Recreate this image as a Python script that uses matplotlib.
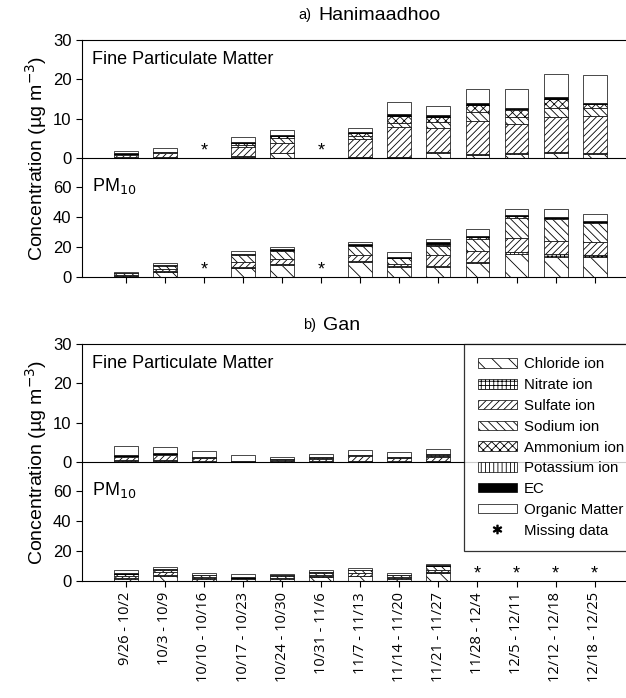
import numpy as np
import matplotlib
matplotlib.use("Agg")
import matplotlib.pyplot as plt
from matplotlib.patches import Patch
from matplotlib.lines import Line2D

plt.rcParams['font.family'] = ['Liberation Sans', 'DejaVu Sans']
plt.rcParams['hatch.linewidth'] = 0.6

weeks = ["9/26 - 10/2", "10/3 - 10/9", "10/10 - 10/16", "10/17 - 10/23",
         "10/24 - 10/30", "10/31 - 11/6", "11/7 - 11/13", "11/14 - 11/20",
         "11/21 - 11/27", "11/28 - 12/4", "12/5 - 12/11", "12/12 - 12/18",
         "12/18 - 12/25"]

species = ["Chloride ion", "Nitrate ion", "Sulfate ion", "Sodium ion",
           "Ammonium ion", "Potassium ion", "EC", "Organic Matter"]

nan = np.nan
# rows = weeks, columns = species (same order as `species`)
han_fine = [
    [0.1, 0.1, 0.6, 0.1, 0.1, 0.05, 0.2, 0.65],
    [0.1, 0.1, 1.0, 0.2, 0.1, 0.05, 0.05, 0.9],
    [nan] * 8,
    [0.3, 0.1, 2.3, 0.5, 0.5, 0.05, 0.25, 1.3],
    [1.2, 0.1, 2.4, 1.5, 0.4, 0.05, 0.1, 1.4],
    [nan] * 8,
    [0.2, 0.1, 4.5, 0.9, 0.6, 0.05, 0.15, 1.2],
    [0.2, 0.1, 7.5, 1.0, 1.8, 0.05, 0.65, 2.9],
    [1.2, 0.2, 6.2, 1.5, 1.3, 0.05, 0.5, 2.2],
    [0.7, 0.2, 8.5, 2.2, 1.9, 0.1, 0.4, 3.6],
    [1.0, 0.2, 7.4, 1.9, 1.8, 0.1, 0.4, 4.8],
    [1.2, 0.3, 9.0, 2.2, 2.2, 0.1, 0.4, 5.9],
    [1.0, 0.3, 9.5, 1.8, 1.1, 0.1, 0.3, 7.1],
]
han_pm10 = [
    [0.6, 0.3, 0.6, 0.9, 0.1, 0.05, 0.15, 0.8],
    [3.5, 0.5, 1.5, 2.0, 0.2, 0.2, 0.2, 1.2],
    [nan] * 8,
    [6.0, 0.6, 3.5, 4.5, 0.5, 0.2, 0.3, 1.7],
    [8.0, 0.5, 3.5, 5.5, 0.4, 0.2, 0.2, 1.7],
    [nan] * 8,
    [10.0, 0.8, 3.5, 6.5, 0.5, 0.2, 0.2, 1.6],
    [6.5, 0.5, 1.5, 4.0, 0.3, 0.1, 0.3, 3.6],
    [6.5, 0.7, 7.5, 6.0, 0.8, 0.2, 1.5, 1.8],
    [9.0, 1.0, 7.5, 7.5, 1.5, 0.3, 0.5, 4.7],
    [15.0, 1.5, 9.5, 13.5, 1.0, 0.3, 0.5, 3.7],
    [13.5, 1.5, 9.0, 14.5, 0.7, 0.3, 0.5, 5.0],
    [13.0, 1.5, 9.0, 12.5, 0.5, 0.3, 0.3, 4.4],
]
gan_fine = [
    [0.2, 0.2, 0.9, 0.2, 0.1, 0.05, 0.05, 2.3],
    [0.3, 0.2, 1.2, 0.3, 0.1, 0.05, 0.05, 1.6],
    [0.1, 0.1, 0.7, 0.1, 0.1, 0.05, 0.05, 1.7],
    [0.05, 0.0, 0.1, 0.05, 0.0, 0.0, 0.0, 1.6],
    [0.1, 0.1, 0.3, 0.2, 0.1, 0.0, 0.05, 0.45],
    [0.1, 0.1, 0.6, 0.2, 0.1, 0.05, 0.05, 0.8],
    [0.2, 0.1, 1.1, 0.3, 0.1, 0.05, 0.05, 1.2],
    [0.1, 0.1, 0.7, 0.2, 0.1, 0.05, 0.05, 1.2],
    [0.2, 0.1, 0.9, 0.3, 0.4, 0.05, 0.05, 1.3],
    [nan] * 8, [nan] * 8, [nan] * 8, [nan] * 8,
]
gan_pm10 = [
    [1.5, 0.5, 1.0, 1.5, 0.2, 0.1, 0.2, 2.0],
    [3.5, 0.7, 1.5, 1.8, 0.1, 0.1, 0.3, 1.5],
    [1.5, 0.4, 0.8, 1.0, 0.1, 0.1, 0.2, 1.4],
    [1.0, 0.2, 0.3, 0.5, 0.1, 0.1, 0.2, 2.4],
    [1.5, 0.3, 0.5, 1.2, 0.1, 0.1, 0.2, 0.9],
    [2.5, 0.5, 1.0, 1.6, 0.1, 0.1, 0.2, 1.5],
    [3.0, 0.6, 1.5, 2.0, 0.1, 0.1, 0.2, 1.2],
    [1.5, 0.3, 0.8, 1.2, 0.1, 0.1, 0.2, 1.3],
    [5.0, 0.8, 1.5, 2.5, 0.2, 0.1, 0.2, 1.0],
    [nan] * 8, [nan] * 8, [nan] * 8, [nan] * 8,
]

hatches = ['\\\\', '++++', '/////', '\\\\\\\\', 'xxxx', '||||', None, None]
faces = ['white'] * 6 + ['black', 'white']

W, H = 626, 698
fig = plt.figure(figsize=(W / 100, H / 100), dpi=100)


def fx(px):
    return px / W


def fy(py):
    return 1 - py / H


left, right = fx(82), fx(626)
xlim = (-1.12, 12.8)


def draw(ax, data, ymax, yticks, star_y, show_missing=True):
    data = np.array(data, dtype=float)
    x = np.arange(len(weeks))
    bottom = np.zeros(len(weeks))
    for j in range(len(species)):
        vals = np.nan_to_num(data[:, j])
        ax.bar(x, vals, 0.61, bottom=bottom, color=faces[j], hatch=hatches[j],
               edgecolor='black', linewidth=0.5)
        bottom = bottom + vals
    if show_missing:
        for i in range(len(weeks)):
            if np.isnan(data[i, 0]):
                ax.text(i, star_y, '*', ha='center', va='center', fontsize=13)
    ax.set_xlim(*xlim)
    ax.set_ylim(0, ymax)
    ax.set_yticks(yticks)
    ax.tick_params(axis='y', direction='out', length=4, labelsize=12, width=0.8)
    ax.spines['right'].set_visible(False)
    for s in ax.spines.values():
        s.set_linewidth(0.8)


def panel(top_px, mid_px, bot_px, fine, pm10, title_a, title_b, title_y,
          ax_px, labels, fine_missing=True):
    ax1 = fig.add_axes([left, fy(mid_px), right - left, fy(top_px) - fy(mid_px)])
    ax2 = fig.add_axes([left, fy(bot_px), right - left, fy(mid_px) - fy(bot_px)])
    draw(ax1, fine, 30, [0, 10, 20, 30], 1.9, fine_missing)
    draw(ax2, pm10, 79, [0, 20, 40, 60], 4.5)
    ax1.set_xticks([])
    ax1.spines['bottom'].set_visible(False)
    ax2.set_xticks(np.arange(len(weeks)))
    ax2.tick_params(axis='x', direction='out', length=4, width=0.8, pad=4)
    if labels:
        ax2.set_xticklabels(weeks, rotation=90, fontsize=10.5,
                            family=['Open Sans', 'DejaVu Sans'])
    else:
        ax2.set_xticklabels([])
    ax1.text(0.018, 0.80, 'Fine Particulate Matter', transform=ax1.transAxes,
             fontsize=13)
    ax2.text(0.018, 0.72, 'PM$_{10}$', transform=ax2.transAxes, fontsize=13)
    fig.text(fx(ax_px), fy(title_y), title_a, fontsize=10.5,
             ha='right', va='center')
    fig.text(fx(ax_px + 7), fy(title_y), title_b, fontsize=14,
             ha='left', va='center')
    fig.text(fx(36), fy(0.5 * (top_px + bot_px)),
             'Concentration (\u00b5g m$^{-3}$)', rotation=90, fontsize=14,
             ha='center', va='center')
    return ax1, ax2


panel(40, 158, 277, han_fine, han_pm10, 'a)', 'Hanimaadhoo', 15, 311, False)
panel(344, 462, 581, gan_fine, gan_pm10, 'b)', 'Gan', 325, 316, True,
      fine_missing=False)

handles = [Patch(facecolor=faces[j], hatch=hatches[j], edgecolor='black',
                 linewidth=0.5, label=species[j]) for j in range(len(species))]
handles.append(Line2D([], [], ls='none', marker='$*$', color='black',
                      markersize=6, label='Missing data'))
leg = fig.legend(handles=handles, loc='upper left',
                 bbox_to_anchor=(fx(464), fy(344)), frameon=True,
                 fancybox=False, edgecolor='black', fontsize=10.8,
                 handlelength=2.6, handleheight=0.6, handletextpad=0.5,
                 labelspacing=0.45, borderpad=0.9, borderaxespad=0)
leg.get_frame().set_linewidth(0.9)
leg.set_zorder(10)

fig.savefig('out.png', dpi=100)
